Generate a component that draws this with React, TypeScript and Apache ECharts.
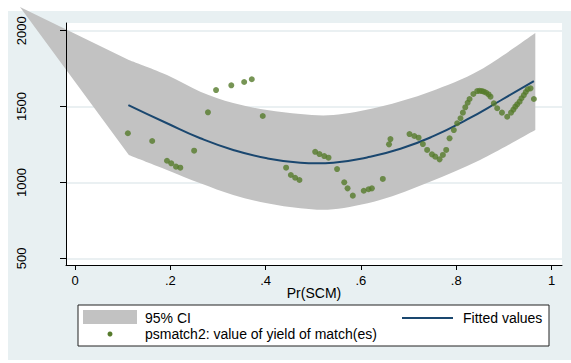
import { useEffect, useRef } from "react";
import * as echarts from "echarts";

// Axis ticks
const xTicks = [0, 0.2, 0.4, 0.6, 0.8, 1];
const yTicks = [500, 1000, 1500, 2000];

// 95% confidence band of the quadratic fit
const ciX = [0.113, 0.193, 0.263, 0.332, 0.403, 0.473, 0.542, 0.64, 0.745, 0.85, 0.966];
const ciUpper = [1807, 1708, 1598, 1523, 1477, 1451, 1444, 1499, 1598, 1741, 1985];
const ciLower = [1181, 1082, 994, 917, 862, 830, 823, 884, 1005, 1148, 1345];
// extra vertex that the band polygon is closed through
const ciStrayX = -0.1155;
const ciStrayY = 2156;

// Fitted values
const fitX = [0.112, 0.193, 0.263, 0.332, 0.403, 0.473, 0.508, 0.542, 0.613, 0.683, 0.752, 0.823, 0.893, 0.963];
const fitY = [1510, 1390, 1291, 1214, 1159, 1130, 1126, 1130, 1165, 1222, 1305, 1415, 1540, 1668];

// psmatch2: value of yield of match(es)
const matchX = [
  0.111, 0.162, 0.193, 0.202, 0.212, 0.221, 0.25, 0.279, 0.296, 0.328, 0.355, 0.371, 0.394,
  0.443, 0.453, 0.462, 0.471, 0.504, 0.513, 0.523, 0.532, 0.55, 0.565, 0.572, 0.583, 0.606,
  0.616, 0.623, 0.646, 0.659, 0.662, 0.702, 0.712, 0.721, 0.73, 0.739, 0.749, 0.756, 0.765,
  0.772, 0.779, 0.786, 0.795, 0.802, 0.809, 0.814, 0.819, 0.824, 0.828, 0.836, 0.844, 0.849,
  0.854, 0.858, 0.863, 0.868, 0.872, 0.879, 0.886, 0.896, 0.907, 0.915, 0.92, 0.924, 0.928,
  0.933, 0.937, 0.942, 0.946, 0.95, 0.956, 0.963,
];
const matchY = [
  1324, 1273, 1143, 1126, 1104, 1097, 1209, 1462, 1609, 1640, 1662, 1680, 1438,
  1097, 1049, 1031, 1016, 1202, 1187, 1174, 1163, 1088, 1001, 961, 913, 945,
  955, 961, 1023, 1251, 1286, 1319, 1306, 1295, 1253, 1214, 1185, 1170, 1152,
  1181, 1214, 1291, 1345, 1390, 1423, 1460, 1495, 1525, 1550, 1583, 1602, 1604,
  1602, 1598, 1591, 1580, 1565, 1521, 1489, 1460, 1433, 1460, 1480, 1499, 1515,
  1532, 1555, 1576, 1596, 1614, 1620, 1550,
];

const FONT = '"Liberation Sans", Arial, Helvetica, sans-serif';
const BAND = "#C2C2C2";
const NAVY = "#1A476F";
const GREEN = "#557A2B";

const X_MIN = -0.0189;
const X_MAX = 1.022;
const Y_MIN = 455.8;
const Y_MAX = 2050.8;

type Pt = number[];

// Smooth SVG path segments (Catmull-Rom as cubic Bezier) through pixel points
function curveThrough(pts: Pt[]): string {
  let d = "";
  for (let i = 0; i < pts.length - 1; i++) {
    const p0 = pts[Math.max(0, i - 1)];
    const p1 = pts[i];
    const p2 = pts[i + 1];
    const p3 = pts[Math.min(pts.length - 1, i + 2)];
    const c1x = p1[0] + (p2[0] - p0[0]) / 6;
    const c1y = p1[1] + (p2[1] - p0[1]) / 6;
    const c2x = p2[0] - (p3[0] - p1[0]) / 6;
    const c2y = p2[1] - (p3[1] - p1[1]) / 6;
    d += ` C ${c1x} ${c1y} ${c2x} ${c2y} ${p2[0]} ${p2[1]}`;
  }
  return d;
}

export default function App() {
  const ref = useRef<HTMLDivElement>(null);

  useEffect(() => {
    const chart = echarts.init(ref.current!, null, { renderer: "svg" });

    chart.setOption({
      animation: false,
      backgroundColor: "transparent",
      textStyle: { fontFamily: FONT },
      grid: {
        left: 66,
        top: 23,
        width: 496,
        height: 242,
        show: true,
        backgroundColor: "#ffffff",
        borderWidth: 0,
      },
      xAxis: {
        type: "value",
        min: X_MIN,
        max: X_MAX,
        z: 10,
        name: "Pr(SCM)",
        nameLocation: "middle",
        nameGap: 21,
        nameMoveOverlap: false,
        nameTextStyle: { fontSize: 14, color: "#000", fontFamily: FONT },
        axisLine: { show: true, onZero: false, lineStyle: { color: "#000", width: 1 } },
        axisTick: { show: true, length: 5, customValues: xTicks, lineStyle: { color: "#000" } },
        axisLabel: {
          customValues: xTicks,
          margin: 9,
          fontSize: 13,
          color: "#000",
          fontFamily: FONT,
          formatter: (v: number) =>
            v === 0 ? "0" : v === 1 ? "1" : "." + Math.round(v * 10),
        },
        splitLine: { show: false },
      },
      yAxis: [
        {
          type: "value",
          min: Y_MIN,
          max: Y_MAX,
          z: 0,
          axisLine: { show: false },
          axisTick: { show: false, customValues: yTicks },
          axisLabel: { show: false, customValues: yTicks },
          splitLine: { show: true, lineStyle: { color: "#E3EBEE", width: 1.5 } },
        },
        {
          type: "value",
          min: Y_MIN,
          max: Y_MAX,
          z: 10,
          position: "left",
          axisLine: { show: true, onZero: false, lineStyle: { color: "#000", width: 1 } },
          axisTick: { show: true, length: 6, customValues: yTicks, lineStyle: { color: "#000" } },
          axisLabel: {
            customValues: yTicks,
            rotate: 90,
            margin: 38,
            fontSize: 13,
            color: "#000",
            fontFamily: FONT,
            formatter: (v: number) => String(v),
          },
          splitLine: { show: false },
        },
      ],
      series: [
        {
          name: "95% CI",
          type: "custom",
          clip: false,
          z: 1,
          silent: true,
          data: [[ciStrayX, ciStrayY]],
          renderItem: (_params: any, api: any) => {
            const stray = api.coord([ciStrayX, ciStrayY]);
            const upper = ciX.map((x, i) => api.coord([x, ciUpper[i]]));
            const lower = ciX.map((x, i) => api.coord([x, ciLower[i]])).reverse();
            let d = `M ${stray[0]} ${stray[1]} L ${upper[0][0]} ${upper[0][1]}`;
            d += curveThrough(upper);
            d += ` L ${lower[0][0]} ${lower[0][1]}`;
            d += curveThrough(lower);
            d += " Z";
            return {
              type: "path",
              shape: { pathData: d },
              style: { fill: BAND },
            };
          },
        },
        {
          name: "Fitted values",
          type: "line",
          data: fitX.map((x, i) => [x, fitY[i]]),
          smooth: 0.5,
          showSymbol: false,
          lineStyle: { color: NAVY, width: 2 },
          z: 3,
        },
        {
          name: "psmatch2: value of yield of match(es)",
          type: "scatter",
          data: matchX.map((x, i) => [x, matchY[i]]),
          symbol: "circle",
          symbolSize: 6,
          itemStyle: { color: GREEN },
          z: 4,
        },
      ],
      graphic: [
        {
          type: "rect",
          shape: { x: 78, y: 305, width: 471, height: 41 },
          style: { fill: "#ffffff", stroke: "#222", lineWidth: 1 },
          z: 20,
        },
        {
          type: "rect",
          shape: { x: 83, y: 310, width: 54, height: 14 },
          style: { fill: BAND },
          z: 21,
        },
        {
          type: "text",
          x: 145,
          y: 318,
          style: { text: "95% CI", fill: "#000", fontSize: 14, fontFamily: FONT, verticalAlign: "middle" },
          z: 21,
        },
        {
          type: "circle",
          shape: { cx: 110, cy: 334, r: 2.5 },
          style: { fill: GREEN },
          z: 21,
        },
        {
          type: "text",
          x: 145,
          y: 334,
          style: {
            text: "psmatch2: value of yield of match(es)",
            fill: "#000",
            fontSize: 14,
            fontFamily: FONT,
            verticalAlign: "middle",
          },
          z: 21,
        },
        {
          type: "line",
          shape: { x1: 402, y1: 318, x2: 453, y2: 318 },
          style: { stroke: NAVY, lineWidth: 2 },
          z: 21,
        },
        {
          type: "text",
          x: 463,
          y: 318,
          style: { text: "Fitted values", fill: "#000", fontSize: 14, fontFamily: FONT, verticalAlign: "middle" },
          z: 21,
        },
      ],
    });

    return () => chart.dispose();
  }, []);

  return (
    <div style={{ position: "absolute", left: 0, top: 0, width: 571, height: 363, background: "#ffffff" }}>
      <div
        style={{ position: "absolute", left: 8, top: 11, width: 563, height: 349, background: "#E8F0F2" }}
      />
      <div ref={ref} style={{ position: "absolute", left: 0, top: 0, width: 571, height: 363 }} />
    </div>
  );
}
